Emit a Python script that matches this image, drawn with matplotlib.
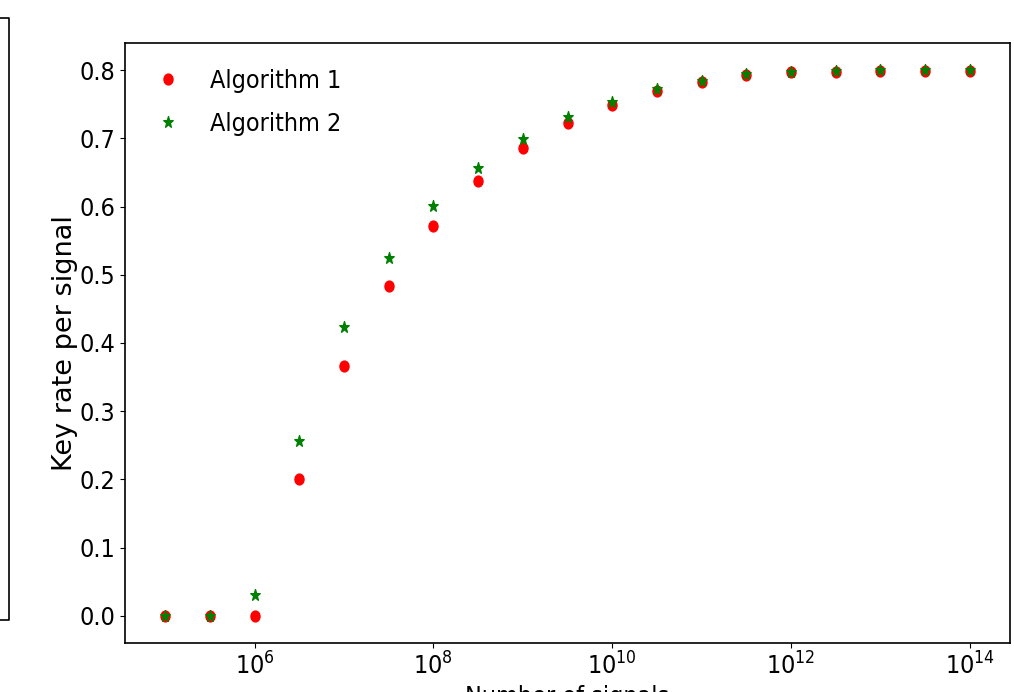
import numpy as np
import matplotlib
matplotlib.use("Agg")
import matplotlib.pyplot as plt
from matplotlib.lines import Line2D
from matplotlib.path import Path
from matplotlib.transforms import Affine2D
from matplotlib.ticker import FixedLocator, NullLocator, LogFormatterSciNotation

# Data (log10 of number of signals, half-decade steps)
log_signals = [5.0, 5.5, 6.0, 6.5, 7.0, 7.5, 8.0, 8.5, 9.0, 9.5,
               10.0, 10.5, 11.0, 11.5, 12.0, 12.5, 13.0, 13.5, 14.0]
alg1 = [0.0, 0.0, 0.0, 0.200, 0.366, 0.484, 0.571, 0.637, 0.686, 0.722,
        0.749, 0.769, 0.783, 0.793, 0.797, 0.798, 0.799, 0.799, 0.799]
alg2 = [0.0, 0.0, 0.031, 0.257, 0.424, 0.525, 0.601, 0.657, 0.699, 0.731,
        0.754, 0.772, 0.785, 0.795, 0.798, 0.799, 0.800, 0.800, 0.800]
xtick_exps = [6, 8, 10, 12, 14]

signals = [10.0 ** e for e in log_signals]

plt.rcParams['font.family'] = ['DejaVu Sans']
plt.rcParams['font.stretch'] = 'condensed'
plt.rcParams['mathtext.fontset'] = 'custom'
plt.rcParams['mathtext.rm'] = 'DejaVu Sans:stretch=condensed'
plt.rcParams['mathtext.it'] = 'DejaVu Sans:italic:stretch=condensed'
plt.rcParams['mathtext.bf'] = 'DejaVu Sans:bold:stretch=condensed'

# vertically stretched markers, as in the reference
stretch = Affine2D().scale(1.0, 1.2)
ell = stretch.transform_path(Path.unit_circle())
star = stretch.transform_path(Path.unit_regular_star(5, 0.381966))

fig = plt.figure(figsize=(10.14, 6.92), dpi=100)
ax = fig.add_axes([125/1014, 49/692, 885/1014, 600/692])

ax.plot(signals, alg1, marker=ell, color='red', markersize=7.8, label='Algorithm 1', linestyle='none')
ax.plot(signals, alg2, marker=star, color='green', markersize=8.5, label='Algorithm 2', linestyle='none')

ax.set_xscale('log')
ax.xaxis.set_major_locator(FixedLocator([10.0 ** e for e in xtick_exps]))
ax.xaxis.set_major_formatter(LogFormatterSciNotation())
ax.xaxis.set_minor_locator(NullLocator())
ax.set_yticks([0.0, 0.1, 0.2, 0.3, 0.4, 0.5, 0.6, 0.7, 0.8])
ax.tick_params(labelsize=18)
ax.set_xlabel('Number of signals', fontsize=18)
ax.set_ylabel('Key rate per signal', fontsize=19.5, fontstretch='normal', labelpad=1)
for s in ax.spines.values():
    s.set_linewidth(1.2)

leg = ax.legend(loc='upper left', frameon=False, fontsize=18, labelspacing=0.75,
                borderaxespad=0.0, handletextpad=0.67,
                bbox_to_anchor=(8 / 885, 1 - 16 / 600))

# partial frame of neighbouring panel at the left edge
W, H = 1014, 692
xs = [0, 9, 9, 0]
ys = [18, 18, 620, 620]
fig.add_artist(Line2D([x / W for x in xs], [1 - y / H for y in ys],
                      color='black', linewidth=1.2, transform=fig.transFigure))

fig.savefig('out.png', dpi=100)
